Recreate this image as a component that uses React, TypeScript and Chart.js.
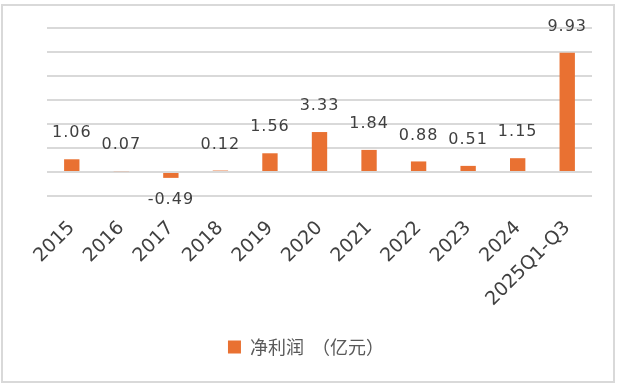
import React, { useEffect, useRef } from "react";
import { Chart, registerables } from "chart.js";

Chart.register(...registerables);

const categories = ["2015", "2016", "2017", "2018", "2019", "2020", "2021", "2022", "2023", "2024", "2025Q1-Q3"];
const netProfit = [1.06, 0.07, -0.49, 0.12, 1.56, 3.33, 1.84, 0.88, 0.51, 1.15, 9.93];
const seriesName = "净利润  （亿元）　　";
const yMin = -2;
const yMax = 12;
const yStep = 2;

const BAR_COLOR = "#E97132";
const TEXT_COLOR = "#404040";
const GRID_COLOR = "#D9D9D9";

const valueLabels = {
  id: "valueLabels",
  afterDatasetsDraw(chart: any) {
    const ctx = chart.ctx;
    const meta = chart.getDatasetMeta(0);
    const data = chart.data.datasets[0].data as number[];
    ctx.save();
    ctx.font = "16px 'DejaVu Sans'";
    (ctx as any).letterSpacing = "1px";
    ctx.fillStyle = TEXT_COLOR;
    ctx.textAlign = "center";
    ctx.textBaseline = "middle";
    meta.data.forEach((el: any, i: number) => {
      const v = data[i];
      const y = v >= 0 ? el.y - 26 : el.y + 22;
      ctx.fillText(v.toFixed(2), el.x, y);
    });
    ctx.restore();
  },
};

export default function App() {
  const ref = useRef<HTMLCanvasElement | null>(null);
  useEffect(() => {
    if (!ref.current) return;
    const chart = new Chart(ref.current, {
      type: "bar",
      data: {
        labels: categories,
        datasets: [
          {
            label: seriesName,
            data: netProfit,
            backgroundColor: BAR_COLOR,
            borderWidth: 0,
            categoryPercentage: 1,
            barPercentage: 0.31,
          },
        ],
      },
      options: {
        responsive: false,
        animation: false,
        layout: { padding: { left: 47, right: 25, top: 28, bottom: 18 } },
        plugins: {
          legend: {
            position: "bottom",
            labels: {
              color: "#595959",
              font: { family: "'Noto Sans CJK SC'", size: 18 },
              boxWidth: 13,
              boxHeight: 13,
              padding: 10,
            },
          },
          tooltip: { enabled: false },
        },
        scales: {
          x: {
            grid: { display: false },
            border: { display: false },
            ticks: {
              color: TEXT_COLOR,
              font: { family: "'DejaVu Sans'", size: 19 },
              minRotation: 45,
              maxRotation: 45,
              autoSkip: false,
              padding: 13,
            },
            afterFit(scale: any) {
              scale.height = 132;
            },
          },
          y: {
            min: yMin,
            max: yMax,
            ticks: { display: false, stepSize: yStep },
            grid: { color: GRID_COLOR, lineWidth: 2, drawTicks: false },
            border: { display: false },
          },
        },
      },
      plugins: [valueLabels],
    });
    return () => chart.destroy();
  }, []);
  return (
    <div style={{ position: "absolute", left: 0, top: 0, width: 617, height: 384, background: "#fff" }}>
      <div
        style={{
          position: "absolute",
          left: 1,
          top: 4,
          width: 614,
          height: 379,
          boxSizing: "border-box",
          border: "2px solid #D9D9D9",
        }}
      />
      <canvas ref={ref} width={617} height={384} style={{ position: "absolute", left: 0, top: 0 }} />
    </div>
  );
}
